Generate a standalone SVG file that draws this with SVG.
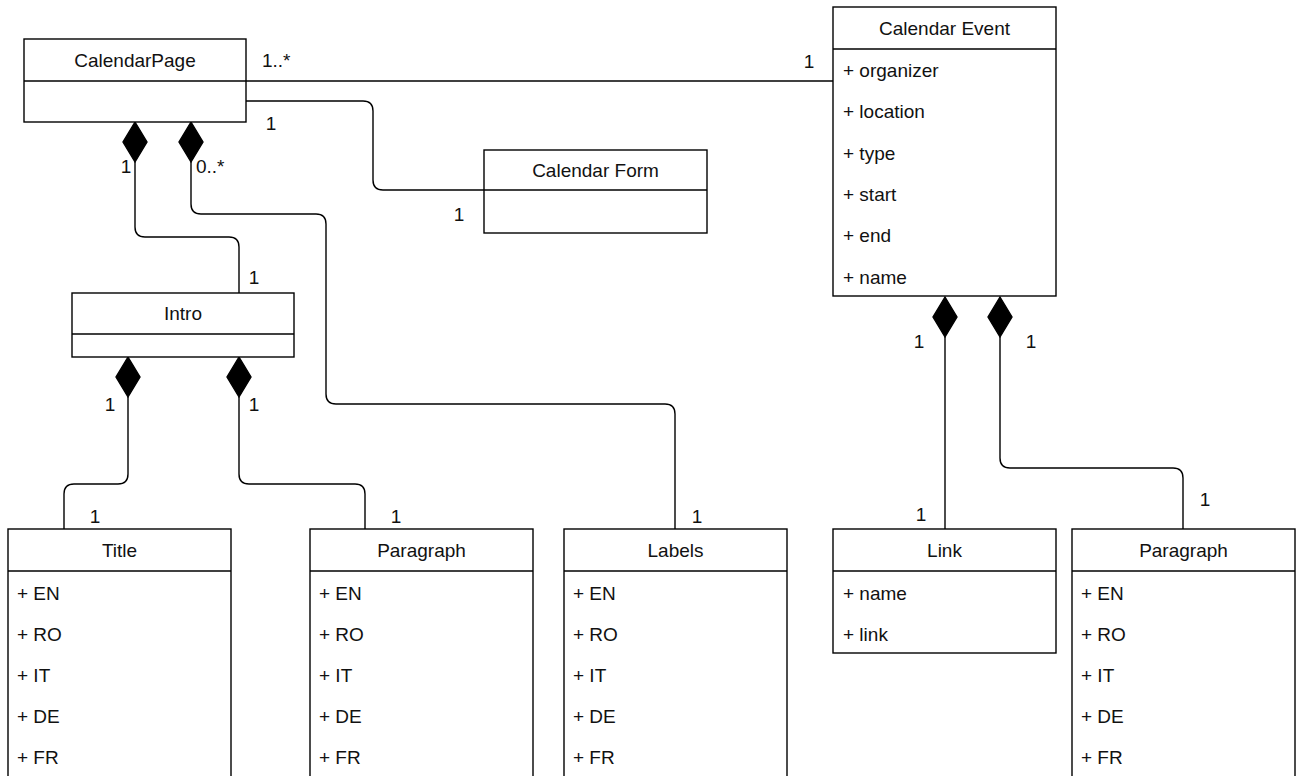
<svg xmlns="http://www.w3.org/2000/svg" width="1302" height="776" viewBox="0 0 1302 776">
  <style>
    .box { fill: #fff; stroke: #000; stroke-width: 1.4; }
    .sep { stroke: #000; stroke-width: 1.4; }
    .edge { fill: none; stroke: #000; stroke-width: 1.4; }
    .dia { fill: #000; stroke: #000; stroke-width: 1.4; }
    text { font-family: "Liberation Sans", Arial, sans-serif; font-size: 19px; fill: #111; }
    .title { text-anchor: middle; }
    .mid { text-anchor: middle; }
  </style>
  <rect width="1302" height="776" fill="#fff"/>

  <!-- connectors -->
  <g id="connectors">
    <!-- CalendarPage 1..* — 1 Calendar Event -->
    <path class="edge" d="M246,81 H833"/>
    <text x="262" y="67">1..*</text>
    <text class="mid" x="809" y="68">1</text>

    <!-- CalendarPage 1 — 1 Calendar Form -->
    <path class="edge" d="M246,101 H363 Q373,101 373,111 V180 Q373,190 383,190 H484"/>
    <text class="mid" x="271" y="130">1</text>
    <text class="mid" x="459" y="221">1</text>

    <!-- CalendarPage ◆ Intro -->
    <path class="dia" d="M135,122 L147,142 L135,162 L123,142 Z"/>
    <path class="edge" d="M135,162 V227 Q135,237 145,237 H229 Q239,237 239,247 V293"/>
    <text class="mid" x="126" y="173">1</text>
    <text class="mid" x="254" y="284">1</text>

    <!-- CalendarPage ◆ Labels -->
    <path class="dia" d="M191,122 L203,142 L191,162 L179,142 Z"/>
    <path class="edge" d="M191,162 V204 Q191,214 201,214 H316 Q326,214 326,224 V394 Q326,404 336,404 H665 Q675,404 675,414 V529"/>
    <text x="196" y="173">0..*</text>
    <text class="mid" x="697" y="523">1</text>

    <!-- Intro ◆ Title -->
    <path class="dia" d="M128,357 L140,377 L128,397 L116,377 Z"/>
    <path class="edge" d="M128,397 V474 Q128,484 118,484 H74 Q64,484 64,494 V529"/>
    <text class="mid" x="110" y="411">1</text>
    <text class="mid" x="95" y="523">1</text>

    <!-- Intro ◆ Paragraph -->
    <path class="dia" d="M239,357 L251,377 L239,397 L227,377 Z"/>
    <path class="edge" d="M239,397 V474 Q239,484 249,484 H355 Q365,484 365,494 V529"/>
    <text class="mid" x="254" y="411">1</text>
    <text class="mid" x="396" y="523">1</text>

    <!-- Calendar Event ◆ Link -->
    <path class="dia" d="M945,297 L957,317 L945,337 L933,317 Z"/>
    <path class="edge" d="M945,337 V529"/>
    <text class="mid" x="919" y="348">1</text>
    <text class="mid" x="921" y="521">1</text>

    <!-- Calendar Event ◆ Paragraph -->
    <path class="dia" d="M1000,297 L1012,317 L1000,337 L988,317 Z"/>
    <path class="edge" d="M1000,337 V458 Q1000,468 1010,468 H1173 Q1183,468 1183,478 V529"/>
    <text class="mid" x="1031" y="348">1</text>
    <text class="mid" x="1205" y="506">1</text>
  </g>

  <!-- CalendarPage -->
  <g id="calendar-page">
    <rect class="box" x="24" y="39" width="222" height="83"/>
    <line class="sep" x1="24" y1="81" x2="246" y2="81"/>
    <text class="title" x="135" y="67">CalendarPage</text>
  </g>

  <!-- Calendar Form -->
  <g id="calendar-form">
    <rect class="box" x="484" y="150" width="223" height="83"/>
    <line class="sep" x1="484" y1="190" x2="707" y2="190"/>
    <text class="title" x="595.5" y="177">Calendar Form</text>
  </g>

  <!-- Calendar Event -->
  <g id="calendar-event">
    <rect class="box" x="833" y="7" width="223" height="289"/>
    <line class="sep" x1="833" y1="49" x2="1056" y2="49"/>
    <text class="title" x="944.5" y="35">Calendar Event</text>
    <text x="843" y="77">+ organizer</text>
    <text x="843" y="118">+ location</text>
    <text x="843" y="160">+ type</text>
    <text x="843" y="201">+ start</text>
    <text x="843" y="242">+ end</text>
    <text x="843" y="284">+ name</text>
  </g>

  <!-- Intro -->
  <g id="intro">
    <rect class="box" x="72" y="293" width="222" height="64"/>
    <line class="sep" x1="72" y1="334" x2="294" y2="334"/>
    <text class="title" x="183" y="320">Intro</text>
  </g>

  <!-- Title -->
  <g id="title">
    <rect class="box" x="8" y="529" width="223" height="260"/>
    <line class="sep" x1="8" y1="571" x2="231" y2="571"/>
    <text class="title" x="119.5" y="557">Title</text>
    <text x="17" y="600">+ EN</text>
    <text x="17" y="641">+ RO</text>
    <text x="17" y="682">+ IT</text>
    <text x="17" y="723">+ DE</text>
    <text x="17" y="764">+ FR</text>
  </g>

  <!-- Paragraph (Intro) -->
  <g id="paragraph-intro">
    <rect class="box" x="310" y="529" width="223" height="260"/>
    <line class="sep" x1="310" y1="571" x2="533" y2="571"/>
    <text class="title" x="421.5" y="557">Paragraph</text>
    <text x="319" y="600">+ EN</text>
    <text x="319" y="641">+ RO</text>
    <text x="319" y="682">+ IT</text>
    <text x="319" y="723">+ DE</text>
    <text x="319" y="764">+ FR</text>
  </g>

  <!-- Labels -->
  <g id="labels">
    <rect class="box" x="564" y="529" width="223" height="260"/>
    <line class="sep" x1="564" y1="571" x2="787" y2="571"/>
    <text class="title" x="675.5" y="557">Labels</text>
    <text x="573" y="600">+ EN</text>
    <text x="573" y="641">+ RO</text>
    <text x="573" y="682">+ IT</text>
    <text x="573" y="723">+ DE</text>
    <text x="573" y="764">+ FR</text>
  </g>

  <!-- Link -->
  <g id="link">
    <rect class="box" x="833" y="529" width="223" height="124"/>
    <line class="sep" x1="833" y1="571" x2="1056" y2="571"/>
    <text class="title" x="944.5" y="557">Link</text>
    <text x="843" y="600">+ name</text>
    <text x="843" y="641">+ link</text>
  </g>

  <!-- Paragraph (Calendar Event) -->
  <g id="paragraph-event">
    <rect class="box" x="1072" y="529" width="223" height="260"/>
    <line class="sep" x1="1072" y1="571" x2="1295" y2="571"/>
    <text class="title" x="1183.5" y="557">Paragraph</text>
    <text x="1081" y="600">+ EN</text>
    <text x="1081" y="641">+ RO</text>
    <text x="1081" y="682">+ IT</text>
    <text x="1081" y="723">+ DE</text>
    <text x="1081" y="764">+ FR</text>
  </g>
</svg>
